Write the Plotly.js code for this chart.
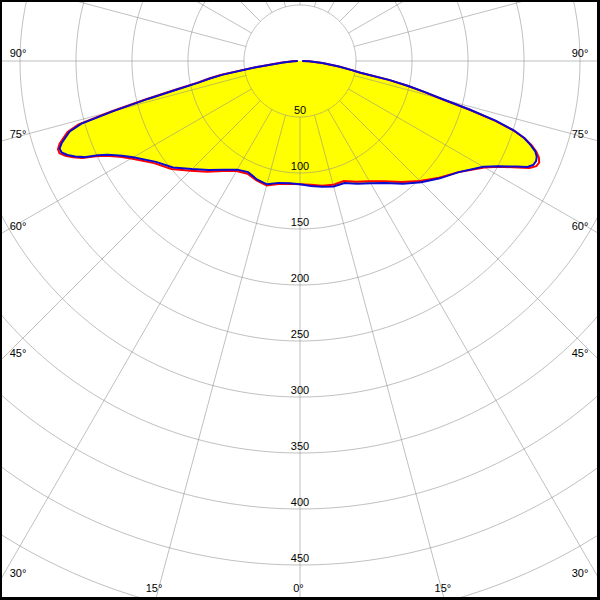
<!DOCTYPE html>
<html>
<head>
<meta charset="utf-8">
<script src="https://cdn.plot.ly/plotly-3.0.1.min.js"></script>
<style>
  html, body { margin: 0; padding: 0; width: 600px; height: 600px; overflow: hidden; background: #fff; }
  #wrap { position: relative; width: 600px; height: 600px; overflow: hidden; }
  #plot { position: absolute; left: -320px; top: -559px; }
  #frame { position: absolute; left: 0; top: 0; width: 600px; height: 600px; box-sizing: border-box;
           border-style: solid; border-color: #000; border-width: 2px 3px 3px 2px; pointer-events: none; }
</style>
</head>
<body>
<div id="wrap"><div id="plot"></div><div id="frame"></div></div>
<script>
// ---- data (luminous intensity, gamma angle in degrees) ----
const gamma      = [0,5,10,15,20,25,30,35,40,45,50,55,60,62,64,65,66,67,68,69,70,71,72,73,74,75,76,77,78,79,80,82,85,88,90];
// blue plane, left half (C180) and right half (C0)
const blueLeft   = [110,109.5,110.5,114,112.5,109.5,112,118.5,127,136.5,148,157,172,180,191,199,211,218,224,228,228.5,225,220,215,203,172,140,112,92,82,70,40,15,6,2];
const blueRight  = [110,112,114,116,116,121,126,133,143,153,163,173,189,200,215,224,228,229,228,225,219,212,201,183,158,132,115,100,82,55,47,35,20,8,2];
// red plane
const redLeft    = [110,110,111.5,115,113.5,111,113.5,120,129,138.5,150,159,174,182,193,201,213,220,226,230,230,227,222,217,206,175,143,115,94,84,72,41,16,6,2];
const redRight   = [110,111,113,114.5,114,119,124,131,141,151.5,162,173,190,201,217,226,231,232,230,226,220,212,200,182,157,131,114,99,81,55,47,35,20,8,2];

// grid / tick values
const circleValues = [50,100,150,200,250,300,350,400,450,500,550];
const radialLabels = [50,100,150,200,250,300,350,400,450];
const spokeAngles  = [-180,-165,-150,-135,-120,-105,-90,-75,-60,-45,-30,-15,0,15,30,45,60,75,90,105,120,135,150,165];
const sideLabelAngles   = [90,75,60,45,30];
const bottomLabelAngles = [15,0];

// ---- geometry of the view window ----
const PLOT = 1240;            // plotly canvas size (larger than the window, cropped)
const PX_PER_UNIT = 1.12;     // 50 cd = 56 px
const RMAX = (PLOT/2)/PX_PER_UNIT;
const CX = 300, CY = 61;      // centre of the diagram inside the 600x600 window
const W = 600, H = 600;

// window pixel -> polar (theta measured from straight down, positive to the right)
function toPolar(px, py) {
  const dx = px - CX, dy = py - CY;
  return {r: Math.sqrt(dx*dx + dy*dy) / PX_PER_UNIT, th: Math.atan2(dx, dy) * 180 / Math.PI};
}

function curve(left, right) {
  const th = [], r = [];
  for (let i = gamma.length - 1; i >= 0; i--) { th.push(-gamma[i]); r.push(left[i]); }
  for (let i = 1; i < gamma.length; i++) { th.push(gamma[i]); r.push(right[i]); }
  return {th, r};
}

const blue = curve(blueLeft, blueRight);
const red  = curve(redLeft, redRight);
const gridColor = 'rgba(140,140,140,0.55)';
const font = {family: 'Arial, "Liberation Sans", sans-serif', size: 11, color: '#000000'};

const traces = [];
// yellow fill
traces.push({type:'scatterpolar', r: blue.r, theta: blue.th, mode:'lines', fill:'toself',
  fillcolor:'#ffff00', line:{width:0, color:'#ffff00'}, hoverinfo:'skip'});
// circles
circleValues.forEach(v => {
  const th = [], r = [];
  for (let a = 0; a <= 360; a += 1) { th.push(a); r.push(v); }
  traces.push({type:'scatterpolar', r, theta: th, mode:'lines', line:{color:gridColor, width:1}, hoverinfo:'skip'});
});
// spokes, starting on the first circle
spokeAngles.forEach(a => {
  traces.push({type:'scatterpolar', r:[circleValues[0], RMAX], theta:[a, a], mode:'lines',
    line:{color:gridColor, width:1}, hoverinfo:'skip'});
});
// red and blue curves
traces.push({type:'scatterpolar', r: red.r, theta: red.th, mode:'lines', line:{color:'#ff0000', width:2}, hoverinfo:'skip'});
traces.push({type:'scatterpolar', r: blue.r, theta: blue.th, mode:'lines', line:{color:'#0a0ad0', width:2}, hoverinfo:'skip'});

// radial labels: centred on the 0° spoke, just inside each circle
{
  const LABEL_GAP = 6;
  const r = [], th = [];
  radialLabels.forEach(v => { const p = toPolar(CX, CY + v*PX_PER_UNIT - LABEL_GAP); r.push(p.r); th.push(p.th); });
  traces.push({type:'scatterpolar', r, theta: th, mode:'text', text: radialLabels.map(String),
    textposition:'middle center', textfont: font, hoverinfo:'skip', cliponaxis:false});
}

// angular labels where each spoke leaves the window
{
  const r = [], th = [], txt = [];
  const add = (px, py, a) => { const p = toPolar(px, py); r.push(p.r); th.push(p.th); txt.push(a + '°'); };
  sideLabelAngles.forEach(a => {
    const rad = a * Math.PI / 180;
    const yEdge = CY + (a === 90 ? 0 : CX / Math.tan(rad));
    add(18, yEdge - 6.5, a);          // left
    add(W - 20, yEdge - 6.5, a);      // right
  });
  bottomLabelAngles.forEach(a => {
    const rad = a * Math.PI / 180;
    const dx = (H - CY) * Math.tan(rad);
    add(CX - dx - 1.5, H - 11, a);
    if (a !== 0) add(CX + dx - 1.5, H - 11, a);
  });
  traces.push({type:'scatterpolar', r, theta: th, mode:'text', text: txt,
    textposition:'middle center', textfont: font, hoverinfo:'skip', cliponaxis:false});
}

const layout = {
  width: PLOT, height: PLOT, margin:{l:0, r:0, t:0, b:0, pad:0},
  paper_bgcolor:'#ffffff', showlegend:false,
  polar: {
    domain:{x:[0,1], y:[0,1]}, bgcolor:'#ffffff',
    radialaxis:{range:[0, RMAX], visible:false, showgrid:false},
    angularaxis:{rotation:-90, direction:'counterclockwise', visible:false, showgrid:false, showline:false, showticklabels:false, ticks:''}
  }
};
Plotly.newPlot('plot', traces, layout, {staticPlot:true, displayModeBar:false});
</script>
</body>
</html>
